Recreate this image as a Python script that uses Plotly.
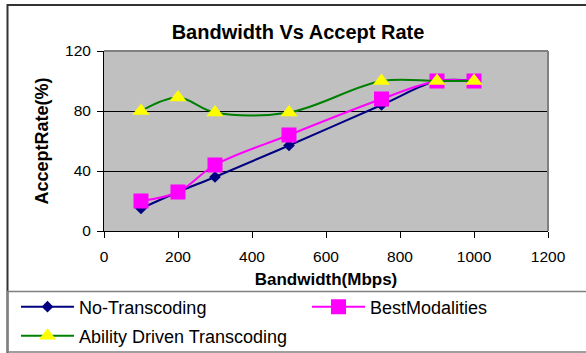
import plotly.graph_objects as go

# Bandwidth (Mbps) and accept rate (%) for each transcoding strategy
bandwidth = [100, 200, 300, 500, 750, 900, 1000]
no_transcoding = [15, 26, 36, 57, 84, 100, 100]
best_modalities = [20, 26, 44, 64, 88, 100, 100]
ability_driven = [80, 89, 79, 79, 100, 100, 100]

x_ticks = [0, 200, 400, 600, 800, 1000, 1200]
y_ticks = [0, 40, 80, 120]

FONT = "Arial, 'Liberation Sans', sans-serif"
W, H = 586, 353
ML, MR, MT, MB = 104, 38, 51, 122
PW, PH = W - ML - MR, H - MT - MB


def px_x(px):
    return (px - ML) / PW


def px_y(py):
    return (H - MB - py) / PH


fig = go.Figure()

fig.add_trace(go.Scatter(
    x=bandwidth, y=no_transcoding, name="No-Transcoding",
    mode="lines+markers", line=dict(color="#000080", width=2, shape="spline"),
    marker=dict(symbol="diamond", size=9, color="#000080"),
    legend="legend",
))
fig.add_trace(go.Scatter(
    x=bandwidth, y=best_modalities, name="BestModalities",
    mode="lines+markers", line=dict(color="#FF00FF", width=2, shape="spline"),
    marker=dict(symbol="square", size=15, color="#FF00FF"),
    legend="legend2",
))
fig.add_trace(go.Scatter(
    x=bandwidth, y=ability_driven, name="Ability Driven Transcoding",
    mode="lines+markers", line=dict(color="#008000", width=2, shape="spline"),
    marker=dict(symbol="triangle-up", size=15, color="#FFFF00"),
    legend="legend3",
))

legend_common = dict(
    font=dict(family=FONT, size=18, color="black"),
    bgcolor="rgba(0,0,0,0)", borderwidth=0, itemwidth=53,
    xanchor="left", yanchor="middle", orientation="v",
)

fig.update_layout(
    width=W, height=H,
    margin=dict(l=ML, r=MR, t=MT, b=MB, pad=0, autoexpand=False),
    paper_bgcolor="white",
    plot_bgcolor="#C0C0C0",
    font=dict(family=FONT, color="black"),
    title=dict(
        text="<b>Bandwidth Vs Accept Rate</b>",
        font=dict(family=FONT, size=20, color="black"),
        x=298 / W, xref="container", xanchor="center",
        y=1 - 32 / H, yref="container", yanchor="middle",
    ),
    xaxis=dict(
        range=[0, 1200], tickvals=x_ticks, ticks="outside", ticklen=6,
        ticklabelstandoff=5,
        tickcolor="black", tickfont=dict(size=15.5, color="black"),
        showline=True, linecolor="black", linewidth=1,
        showgrid=False, zeroline=False,
        title=dict(text="<b>Bandwidth(Mbps)</b>", font=dict(size=17, color="black"),
                   standoff=9),
    ),
    yaxis=dict(
        range=[0, 120], tickvals=y_ticks, ticks="outside", ticklen=6,
        ticklabelstandoff=3,
        tickcolor="black", tickfont=dict(size=15.5, color="black"),
        showline=True, linecolor="black", linewidth=1,
        showgrid=True, gridcolor="black", gridwidth=1, zeroline=False,
        title=dict(text="<b>AcceptRate(%)</b>", font=dict(size=18, color="black"),
                   standoff=11),
    ),
    legend=dict(x=px_x(16), y=px_y(307), **legend_common),
    legend2=dict(x=px_x(307), y=px_y(307), **legend_common),
    legend3=dict(x=px_x(16), y=px_y(336), **legend_common),
    showlegend=True,
)

# Chart frame, legend box and plot-area edges
fig.add_shape(type="rect", xref="paper", yref="paper",
              x0=px_x(7.5), x1=px_x(700), y0=px_y(600), y1=px_y(5),
              line=dict(color="#333333", width=2), layer="below")
fig.add_shape(type="rect", xref="paper", yref="paper",
              x0=px_x(7.5), x1=px_x(700), y0=px_y(352), y1=px_y(291.5),
              line=dict(color="#808080", width=1.5), layer="below")
fig.add_shape(type="line", xref="paper", yref="paper",
              x0=0, x1=1, y0=1, y1=1, line=dict(color="#808080", width=2))
fig.add_shape(type="line", xref="paper", yref="paper",
              x0=1, x1=1, y0=0, y1=1, line=dict(color="#808080", width=2))

fig.write_html("out.html")
